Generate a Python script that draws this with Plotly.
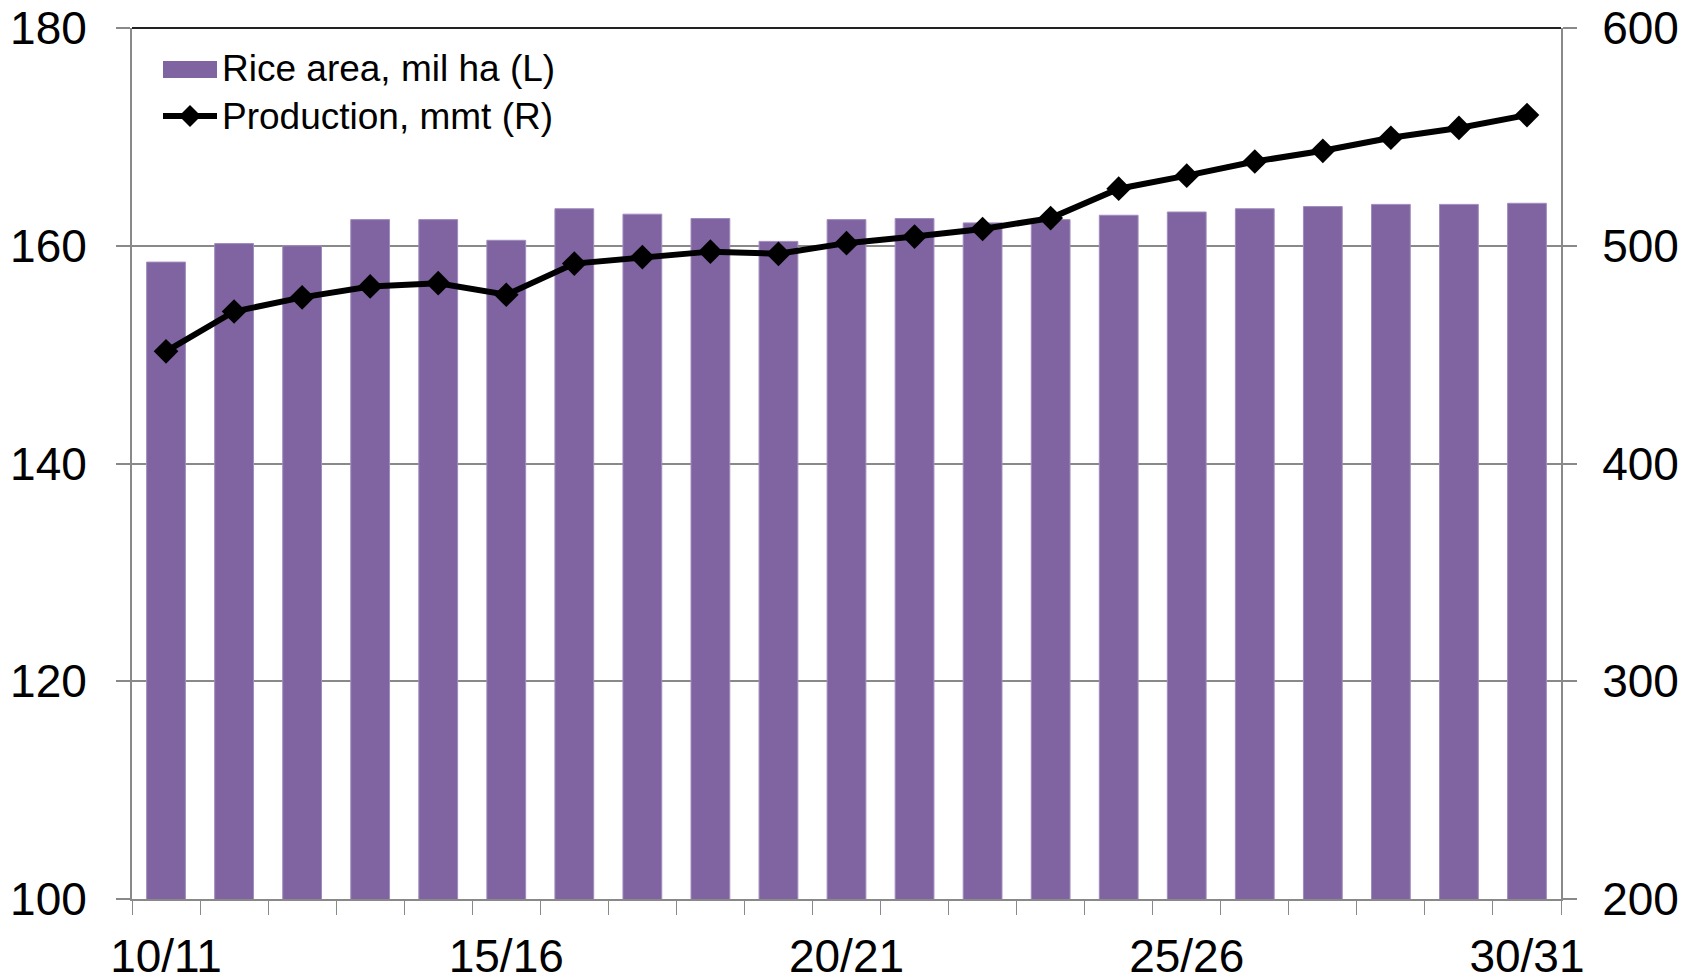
import plotly.graph_objects as go

# marketing years on the x axis
seasons = ["10/11", "11/12", "12/13", "13/14", "14/15", "15/16", "16/17", "17/18",
           "18/19", "19/20", "20/21", "21/22", "22/23", "23/24", "24/25", "25/26",
           "26/27", "27/28", "28/29", "29/30", "30/31"]

# rice area, million hectares (left axis)
rice_area = [158.5, 160.2, 160.0, 162.4, 162.4, 160.5, 163.4, 162.9, 162.5, 160.4,
             162.4, 162.5, 162.1, 162.4, 162.8, 163.1, 163.4, 163.6, 163.8, 163.8, 163.9]

# production, million metric tons (right axis)
production = [451.5, 469.8, 476.3, 481.3, 482.8, 477.5, 491.8, 494.8, 497.3, 496.3,
              501.2, 504.2, 507.7, 512.7, 526.2, 532.2, 538.7, 543.6, 549.6, 554.1, 560.0]

area_name = "Rice area, mil ha (L)"
prod_name = "Production, mmt (R)"

label_every = 5
xpos = list(range(len(seasons)))
FONT = "Liberation Sans, Arial, sans-serif"
GRID = "#898989"
PURPLE = "#8064A2"

W, H = 1702, 979
L, R, T, B = 124, 149, 20, 88
pw, ph = W - L - R, H - T - B
OFF = 8  # page margin around the plot div


def px(x):
    return (x - OFF - L) / pw


def py(y):
    return 1 - (y - OFF - T) / ph


fig = go.Figure()
fig.add_trace(go.Bar(x=xpos, y=rice_area, name=area_name,
                     marker=dict(color=PURPLE, line=dict(color="#A08CBB", width=1)),
                     yaxis="y"))
fig.add_trace(go.Scatter(x=xpos, y=production, name=prod_name,
                         mode="lines+markers",
                         line=dict(color="black", width=6),
                         marker=dict(symbol="diamond", size=19, color="black"),
                         yaxis="y2"))

fig.update_layout(
    width=W, height=H,
    margin=dict(l=L, r=R, t=T, b=B),
    paper_bgcolor="white", plot_bgcolor="white",
    font=dict(family=FONT, size=46, color="black"),
    bargap=0.43,
    showlegend=False,
    xaxis=dict(range=[-0.5, len(seasons) - 0.5], automargin=False,
               tickvals=xpos[::label_every], ticktext=seasons[::label_every],
               ticks="", showgrid=False, zeroline=False,
               showline=True, linecolor=GRID, linewidth=2,
               minor=dict(tickvals=[i - 0.5 for i in range(len(seasons) + 1)],
                          ticks="outside", ticklen=14, tickcolor=GRID, tickwidth=1,
                          showgrid=False),
               ticklabelstandoff=16, ticklabeloverflow="allow"),
    yaxis=dict(range=[100, 180], dtick=20, showgrid=True, gridcolor=GRID, gridwidth=2,
               zeroline=False, showline=True, linecolor=GRID, linewidth=2,
               ticks="outside", ticklen=14, tickcolor=GRID, tickwidth=2,
               ticklabelstandoff=20, automargin=False, ticklabeloverflow="allow"),
    yaxis2=dict(range=[200, 600], dtick=100, overlaying="y", side="right",
                showgrid=False, zeroline=False, showline=True, linecolor=GRID,
                linewidth=2, ticks="outside", ticklen=14, tickcolor=GRID, tickwidth=2,
                ticklabelstandoff=16, automargin=False, ticklabeloverflow="allow"),
)

# dark frame line along the top of the plot area
fig.add_shape(type="line", xref="paper", yref="paper", x0=0, x1=1, y0=1, y1=1,
              line=dict(color="#222222", width=2))

# legend, drawn Excel style (wide swatch, line with diamond)
sx0, sx1 = px(163), px(217)
fig.add_shape(type="rect", xref="paper", yref="paper", x0=sx0, x1=sx1,
              y0=py(78), y1=py(61), fillcolor=PURPLE, line=dict(width=0))
fig.add_shape(type="line", xref="paper", yref="paper", x0=sx0, x1=sx1,
              y0=py(116), y1=py(116), line=dict(color="black", width=6))
cx, cy, d = 190, 116, 11
fig.add_shape(type="path", xref="paper", yref="paper",
              path=f"M {px(cx - d)} {py(cy)} L {px(cx)} {py(cy - d)} "
                   f"L {px(cx + d)} {py(cy)} L {px(cx)} {py(cy + d)} Z",
              fillcolor="black", line=dict(width=0))
for name, ty in [(area_name, 69), (prod_name, 116)]:
    fig.add_annotation(text=name, xref="paper", yref="paper", x=px(220), y=py(ty),
                       xanchor="left", yanchor="middle", showarrow=False,
                       font=dict(size=37))

fig.write_html("out.html")
